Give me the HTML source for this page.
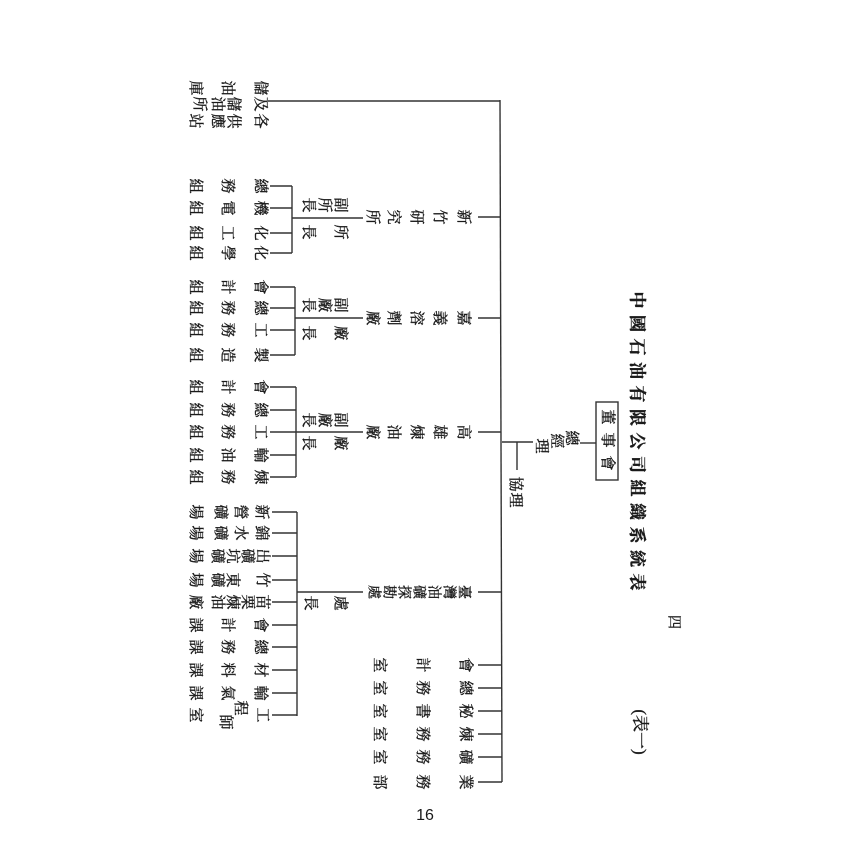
<!DOCTYPE html>
<html><head><meta charset="utf-8"><style>
html,body{margin:0;padding:0;background:#fff;}
svg{display:block;}
text{font-family:"Liberation Serif","Noto Serif CJK SC","Noto Sans CJK TC",serif;fill:#1a1a1a;stroke:#1a1a1a;stroke-width:0.35;}
</style></head><body>
<svg id="s" width="850" height="850" viewBox="0 0 850 850" xmlns="http://www.w3.org/2000/svg">
<g stroke="#333" stroke-width="1.4" fill="none">
<line x1="500" y1="100" x2="502" y2="782"/>
<line x1="268" y1="101" x2="500" y2="101"/>
<line x1="478" y1="217" x2="500" y2="217"/>
<line x1="478" y1="318" x2="501" y2="318"/>
<line x1="478" y1="432" x2="501" y2="432"/>
<line x1="478" y1="592" x2="502" y2="592"/>
<line x1="478" y1="665" x2="502" y2="665"/>
<line x1="478" y1="688" x2="502" y2="688"/>
<line x1="478" y1="711" x2="502" y2="711"/>
<line x1="478" y1="734" x2="502" y2="734"/>
<line x1="478" y1="757" x2="502" y2="757"/>
<line x1="478" y1="782" x2="502" y2="782"/>
<rect x="596" y="402" width="22" height="78"/>
<line x1="580" y1="443" x2="596" y2="443"/>
<line x1="502" y1="442" x2="533" y2="442"/>
<line x1="517" y1="442" x2="517" y2="470"/>
<line x1="292" y1="218" x2="363" y2="218"/>
<line x1="292" y1="186" x2="292" y2="253"/>
<line x1="270" y1="186" x2="292" y2="186"/><line x1="270" y1="208" x2="292" y2="208"/>
<line x1="270" y1="233" x2="292" y2="233"/><line x1="270" y1="253" x2="292" y2="253"/>
<line x1="295" y1="318" x2="363" y2="318"/>
<line x1="295" y1="287" x2="295" y2="355"/>
<line x1="270" y1="287" x2="295" y2="287"/><line x1="270" y1="308" x2="295" y2="308"/>
<line x1="270" y1="330" x2="295" y2="330"/><line x1="270" y1="355" x2="295" y2="355"/>
<line x1="296" y1="432" x2="363" y2="432"/>
<line x1="296" y1="387" x2="296" y2="477"/>
<line x1="270" y1="387" x2="296" y2="387"/><line x1="270" y1="410" x2="296" y2="410"/>
<line x1="270" y1="432" x2="296" y2="432"/><line x1="270" y1="455" x2="296" y2="455"/>
<line x1="270" y1="477" x2="296" y2="477"/>
<line x1="297" y1="592" x2="363" y2="592"/>
<line x1="297" y1="512" x2="297" y2="716"/>
<g id="tk"></g>
</g>
<g id="t"></g>
<text x="425" y="820" font-size="16" text-anchor="middle" style="font-family:'Liberation Sans',sans-serif;stroke-width:0">16</text>
</svg>
<script>
var NS="http://www.w3.org/2000/svg";
var t=document.getElementById('t'),tk=document.getElementById('tk');
function ch(c,x,y,s,b){var e=document.createElementNS(NS,'text');e.setAttribute('x',x);e.setAttribute('y',y);
e.setAttribute('font-size',s||15);e.setAttribute('text-anchor','middle');e.setAttribute('dominant-baseline','central');
if(b)e.setAttribute('font-weight','bold');
e.setAttribute('transform','rotate(90 '+x+' '+y+')');e.textContent=c;t.appendChild(e);}
function row(y,str,xs,s){for(var i=0;i<str.length;i++)ch(str[i],xs[i],y,s);}
var X3=[260,227,195];
row(88,"儲油庫",[260,227,195]);
row(104,"及儲油所",[260,233,217,199]);
row(121,"各供應站",[260,233,217,195]);
var XF=[463,439,416,393,372];
row(217,"新竹研究所",XF);
row(318,"嘉義溶劑廠",XF);
row(432,"高雄煉油廠",XF);
row(592,"臺灣油礦探勘處",[463,448,433,418,403,388,373],14);
row(205,"副所長",[340,324,308]);row(232,"所長",[340,308]);
row(305,"副廠長",[340,324,308]);row(333,"廠長",[340,308]);
row(420,"副廠長",[340,324,308]);row(443,"廠長",[340,308]);
row(603,"處長",[340,310]);
row(186,"總務組",X3);row(208,"機電組",X3);row(233,"化工組",X3);row(253,"化學組",X3);
row(287,"會計組",X3);row(308,"總務組",X3);row(330,"工務組",X3);row(355,"製造組",X3);
row(387,"會計組",X3);row(410,"總務組",X3);row(432,"工務組",X3);row(455,"輸油組",X3);row(477,"煉務組",X3);
var X4=[261,240,220,195],X5=[262,247,232,217,195];
row(512,"新營礦場",X4);row(533,"錦水礦場",X4);row(556,"出礦坑礦場",X5);
row(580,"竹東礦場",[262,232,217,195]);row(602,"苗栗煉油廠",X5);
row(625,"會計課",X3);row(647,"總務課",X3);row(670,"材料課",X3);row(693,"輸氣課",X3);
ch("工",262,715);ch("程",240,708);ch("師",225,722);ch("室",195,715);
[512,533,556,580,602,625,647,670,693,715].forEach(function(y){var l=document.createElementNS(NS,'line');l.setAttribute('x1',272);l.setAttribute('x2',297);l.setAttribute('y1',y);l.setAttribute('y2',y);tk.appendChild(l);});
var XS=[465,422,379];
row(665,"會計室",XS);row(688,"總務室",XS);row(711,"秘書室",XS);row(734,"煉務室",XS);row(757,"礦務室",XS);row(782,"業務部",XS);
ch("董",607,417);ch("事",607,440);ch("會",607,463);
ch("總",571,438);ch("經",556,441);ch("理",541,446);
ch("協",515,484);ch("理",515,500);
var T="中國石油有限公司組織系統表";
for(var i=0;i<T.length;i++)ch(T[i],637,300+i*23.5,17,1);
ch("四",673,622,14);
var e=document.createElementNS(NS,'text');e.setAttribute('x',640);e.setAttribute('y',732);e.setAttribute('font-size',17);
e.setAttribute('text-anchor','middle');e.setAttribute('dominant-baseline','central');e.setAttribute('transform','rotate(90 640 732)');
e.textContent="(表一)";t.appendChild(e);
</script>
</body></html>
